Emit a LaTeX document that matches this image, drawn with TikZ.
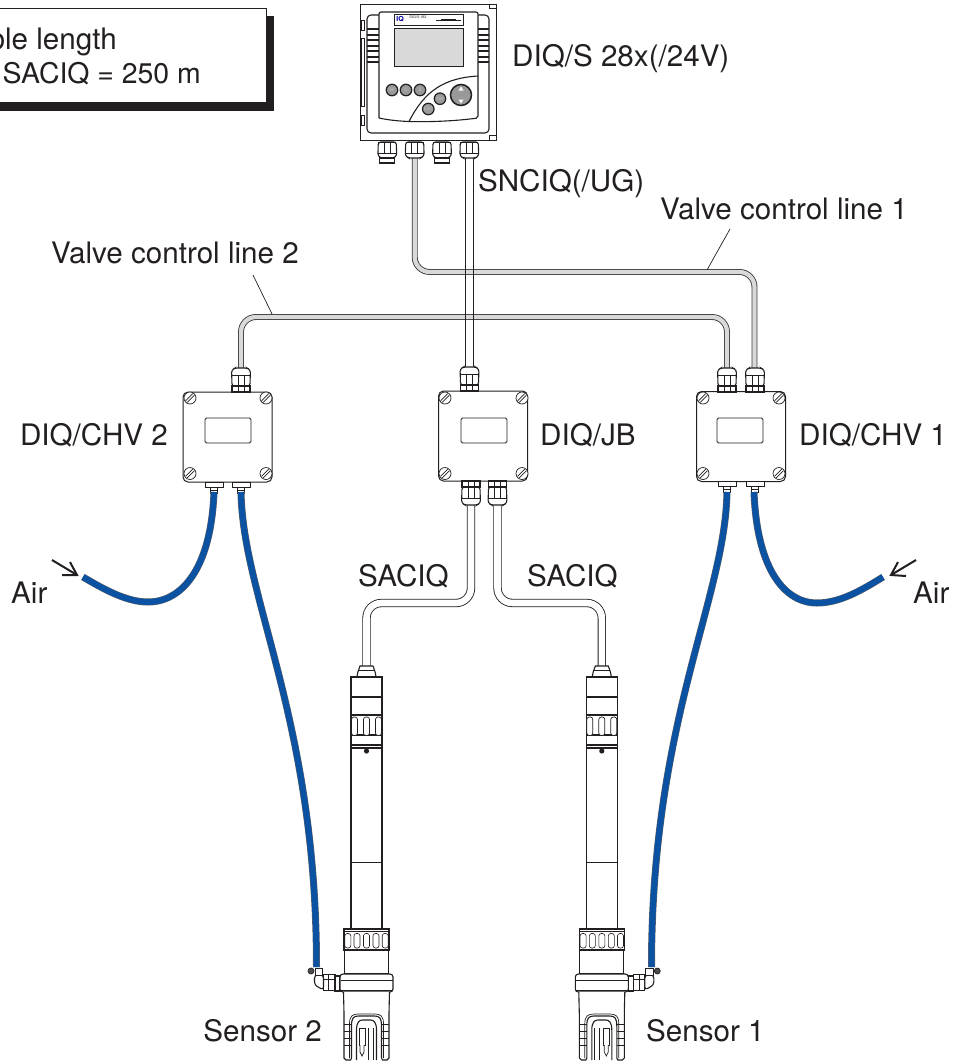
\documentclass[tikz,border=0pt]{standalone}
\usepackage{fontspec}
\setmainfont{TeX Gyre Heros}
\definecolor{ink}{HTML}{231F20}
\definecolor{hoseblue}{HTML}{0B52A3}
\tikzset{
  lbl/.style={font=\fontsize{29.6bp}{33bp}\selectfont, text=ink, inner sep=0pt, anchor=base west},
  lble/.style={lbl, anchor=base east},
  thinl/.style={draw=ink, line width=0.7bp},
  med/.style={draw=ink, line width=1.1bp},
  cablew/.style={draw=ink, line width=0.85bp, double=white, double distance=6.6bp, rounded corners=15bp},
  cablev/.style={draw=ink!90, line width=0.85bp, double=black!15, double distance=4.2bp, rounded corners=15bp},
  hose/.style={draw=ink!70, line width=0.5bp, double=hoseblue, double distance=6bp},
  airarrow/.style={draw=ink, line width=2bp, miter limit=10},
  jbox/.style={draw=ink, line width=1bp, rounded corners=5bp, minimum width=89bp, minimum height=90bp, inner sep=0pt, fill=white},
  jwin/.style={draw=ink, line width=0.9bp, rounded corners=1.5bp, minimum width=46bp, minimum height=25bp, inner sep=0pt, fill=white},
  callout/.style={draw=ink, line width=0.7bp, fill=white},
  btn/.style={circle, draw=ink, line width=1.2bp, fill=black!40, minimum size=11.5bp, inner sep=0pt, text=black!22, font=\fontsize{4.5bp}{5bp}\selectfont},
  screw/.pic={
    \draw[thinl, fill=white] (0,0) circle (6bp);
    \draw[thinl] (-4.4,2.8) -- (2.8,-4.4) (-2.8,4.4) -- (4.4,-2.8);
  },
  glandtop/.pic={% origin at box edge, body runs toward negative y
    \draw[med, fill=white, rounded corners=2.5bp] (-9,-6) -- (-9.4,-22) -- (-6,-24) -- (6,-24) -- (9.4,-22) -- (9,-6) -- cycle;
    \draw[med, fill=white] (-9,0) rectangle (9,-6);
    \draw[thinl] (-3,0) -- (-3,-17) (3,0) -- (3,-17) (-9,-17) -- (9,-17);
  },
  fitbottom/.pic={% origin at box edge
    \draw[thinl, fill=white] (-9,0) rectangle (9,5);
    \draw[thinl, fill=white] (-3.4,5) rectangle (3.4,11);
    \draw[thinl] (-3.4,8) -- (3.4,8);
  },
  sensorpic/.pic={% origin at centre x, y absolute
    \draw[med, fill=white] (-9.6,677) -- (-8.6,672) -- (-6.5,666) -- (6.5,666) -- (8.6,672) -- (9.6,677) -- cycle;
    \draw[thinl] (-8.6,670) -- (8.6,670);
    \draw[med, fill=white] (-15.5,677) rectangle (15.5,929);
    \draw[med] (-15.5,697) -- (15.5,697) (-15.5,715) -- (15.5,715) (-15.5,735) -- (15.5,735);
    \foreach \xx in {-12,0,12}{
      \draw[thinl, fill=white, rounded corners=2.5bp] (\xx-3,717) rectangle (\xx+3,735.5);
    }
    \draw[med] (-15.5,745) -- (15.5,745) (-15.5,748) -- (15.5,748);
    \fill[ink] (0,751) circle (2.6bp);
    \draw[thinl] (-15.5,862) -- (15.5,862);
    % hose fitting
    \draw[thinl, fill=white] (-43,974) rectangle (-31.5,990);
    \draw[thinl] (-43,979) -- (-31.5,979) (-38,974) -- (-38,990);
    \draw[med, fill=white] (-31.5,976) rectangle (-26.5,991);
    \draw[med, fill=white, rounded corners=3bp] (-52,975) -- (-52,985) -- (-43,990) -- (-43,975) -- cycle;
    \draw[thinl, fill=white] (-51.5,968) rectangle (-44,975);
    \draw[thinl, fill=ink!80] (-55.5,971) circle (3bp);
    % head
    \draw[med, fill=white] (-22,950) -- (-22,974) -- (22,974) -- (22,950) -- cycle;
    \draw[med, fill=white] (-22.5,929) rectangle (22.5,950);
    \draw[thinl] (-22.5,931.5) -- (22.5,931.5);
    \foreach \xx in {-18.7,-9.5,0,9.5,18.7}{
      \draw[draw=ink, line width=0.6bp, rounded corners=2.4bp] (\xx-3,933.5) rectangle (\xx+3,948);
    }
    \draw[med, fill=white, rounded corners=3bp] (-26.5,974) rectangle (26.5,992);
    \draw[thinl] (-26,980) -- (26,980) (-26,990) -- (26,990);
    % tail with prongs
    \draw[med, fill=white] (-23,992) -- (-22.5,1013) -- (-22.5,1058) -- (-20.5,1060) -- (-16,1060) -- (-15,1058)
       -- (-15,1026) .. controls (-15,1018) and (-13,1016) .. (-8,1016) -- (8,1016) .. controls (13,1016) and (15,1018) .. (15,1026)
       -- (15,1058) -- (16,1060) -- (20.5,1060) -- (22.5,1058) -- (22.5,1013) -- (23,992);
    \draw[thinl] (-22.5,1024) -- (-15,1024) (-22.5,1031) -- (-15,1031) (-22.5,1038) -- (-15,1038) (-22.5,1045) -- (-15,1045)
       (22.5,1024) -- (15,1024) (22.5,1031) -- (15,1031) (22.5,1038) -- (15,1038) (22.5,1045) -- (15,1045);
    \draw[thinl] (-17,1058) -- (-17,1024) .. controls (-17,1016) and (-14,1014) .. (-8,1014) -- (8,1014) .. controls (14,1014) and (17,1016) .. (17,1024) -- (17,1058);
    \draw[med, fill=white] (-10,1060) -- (-10,1030) .. controls (-10,1022) and (-7,1020) .. (-4,1020) -- (4,1020) .. controls (7,1020) and (10,1022) .. (10,1030) -- (10,1060);
    \draw[thinl, fill=white] (-7.5,1028) rectangle (-1.5,1045);
    \draw[thinl, fill=white] (-6.5,1045) -- (-6.5,1052) -- (-4.5,1056) -- (-2.5,1052) -- (-2.5,1045);
    \draw[med] (2,1028) -- (2,1060) (7,1028) -- (7,1060);
  }
}
\begin{document}
\begin{tikzpicture}[x=1bp,y=-1bp]
\useasboundingbox (0,0) rectangle (961,1063);

% ---- callout box
\fill[ink] (30,15.7) rectangle (274,110.7);
\fill[ink] (-5,60) rectangle (274,110.7);
\draw[callout] (-5,8.5) rectangle (266,102);
\node[lble] (calla) at (117,49) {ble length};
\node[lble, font=\fontsize{28.4bp}{32bp}\selectfont] (callb) at (201,83) {SACIQ = 250 m};

% ---- connection points
\coordinate (gA) at (414.7,158);
\coordinate (gB) at (469.5,158);
\coordinate (gBe) at (469.5,368);
\coordinate (v1m) at (754.5,272);
\coordinate (v1e) at (754.5,369);
\coordinate (v2s) at (241,369);
\coordinate (v2m) at (727,317);
\coordinate (v2e) at (727,369);
\coordinate (s2o) at (471,503);
\coordinate (s1o) at (497.5,503);
\coordinate (s2m) at (366.5,603);
\coordinate (s1m) at (601.8,603);
\coordinate (s2i) at (366.5,667);
\coordinate (s1i) at (601.8,667);

% ---- cables
\draw[cablew] (gB) -- (gBe);
\draw[cablev] (gA) |- (v1m) -- (v1e);
\draw[cablev] (v2s) |- (v2m) -- (v2e);
\draw[thinl] ([xshift=-3.7bp]gB) -- ([xshift=-3.7bp]gBe) ([xshift=3.7bp]gB) -- ([xshift=3.7bp]gBe);
\draw[cablew] (s2o) |- (s2m) -- (s2i);
\draw[cablew] (s1o) |- (s1m) -- (s1i);

% ---- controller
\node[draw=ink, line width=1bp, fill=white, minimum width=136bp, minimum height=136bp, inner sep=0pt] (ctrl) at (428.5,72) {};
\draw[thinl, fill=white] (489,4.5) rectangle (496.5,8);
\draw[thinl, fill=white] (489,135) rectangle (496.5,140);
\draw[thinl] (361,20) rectangle (364,30) (361,38) rectangle (364,106) (361,115) rectangle (364,125);
\draw[med, fill=white, rounded corners=4bp] (367,15) rectangle (489,133);
\foreach \yy in {29,34.5,40,45.5,51,56.5,62}{
  \draw[ink, line width=2bp] (367,\yy) -- (379,\yy) (478,\yy) -- (489,\yy);
}
\draw[med, fill=white, rounded corners=2bp] (379,118) -- (379,12) -- (478,12) -- (478,118) .. controls (455,121) and (432,122) .. (409,121.5) .. controls (398,121) and (388,120) .. (379,118);
\draw[med] (409,121.5) .. controls (425,90) and (445,78) .. (478,76);
\draw[thinl, fill=white] (394,14) rectangle (463,25.5);
\node[text=blue!60!black, inner sep=0pt, font=\bfseries\fontsize{7bp}{7bp}\selectfont] (logo) at (400,19.5) {IQ};
\node[text=ink, inner sep=0pt, font=\fontsize{3.6bp}{4bp}\selectfont] (hdr) at (418,17.5) {DIQ/S 182};
\draw[ink, line width=0.6bp] (436,20) -- (461,20);
\fill[ink] (441,18.8) rectangle (456,21.2);
\node[draw=ink, line width=1bp, fill=black!15, minimum width=69bp, minimum height=38bp, inner sep=0pt] (disp) at (428.5,47) {};
\node[btn] (bM) at (392,90) {M};
\node[btn] (bC) at (406,90) {C};
\node[btn] (bS) at (420,90) {S};
\node[btn] (bOK) at (440,98.7) {OK};
\node[btn] (bEsc) at (428.3,109) {ESC};
\node[circle, draw=ink, line width=1.5bp, fill=black!40, minimum size=21bp, inner sep=0pt] (bBig) at (461,95) {};
\fill[white] (461,86.5) -- (458.5,90.5) -- (463.5,90.5) -- cycle;
\fill[white] (461,103.5) -- (458.5,99.5) -- (463.5,99.5) -- cycle;

\foreach \xx/\cp in {387.3/1,414.7/0,442/1,469.3/0}{
  \begin{scope}[shift={(\xx,140)}, yscale=-1]
    \draw[med, fill=white, rounded corners=2.5bp] (-9,-2) -- (-9.4,-16) -- (-6,-18) -- (6,-18) -- (9.4,-16) -- (9,-2) -- cycle;
    \draw[thinl] (-9,-2) -- (9,-2) (-3,-2) -- (-3,-13) (3,-2) -- (3,-13) (-9,-13) -- (9,-13);
    \ifnum\cp=1
      \draw[med, fill=white] (-7.5,-18) rectangle (7.5,-23);
    \fi
  \end{scope}
}

% ---- junction boxes
\node[jbox] (chv2) at (227.5,437) {};
\node[jbox] (jb) at (483,436) {};
\node[jbox] (chv1) at (741,436.5) {};
\node[jwin] (chv2w) at (228,430.5) {};
\node[jwin] (jbw) at (484,430.5) {};
\node[jwin] (chv1w) at (740,430.5) {};
\foreach \bx in {190,266,445,522,703,779}{
  \pic at (\bx,398) {screw};
  \pic at (\bx,473.5) {screw};
}
\pic at (241,392) {glandtop};
\pic at (469.5,391) {glandtop};
\pic at (727,392) {glandtop};
\pic at (755,392) {glandtop};
\pic at (471,481) [yscale=-1] {glandtop};
\pic at (497.5,481) [yscale=-1] {glandtop};
\pic at (214,482) {fitbottom};
\pic at (241,482) {fitbottom};
\pic at (727,481) {fitbottom};
\pic at (755,481) {fitbottom};

% ---- hoses
\coordinate (h2a) at (214,492);
\coordinate (h2b) at (241,492);
\coordinate (h1a) at (727,492);
\coordinate (h1b) at (754,492);
\coordinate (airL) at (83,577);
\coordinate (airR) at (883,577);
\coordinate (s2h) at (316.5,967);
\coordinate (s1h) at (651.5,967);
\draw[hose] (h2a) .. controls (211,570) and (181,602) .. (148,602) .. controls (127,602) and (105,590) .. (airL);
\draw[hose] (h1b) .. controls (757,570) and (785,603) .. (817,603) .. controls (840,603) and (862,590) .. (airR);
\draw[hose] (h1a) .. controls (725,600) and (651.5,720) .. (s1h);
\draw[hose] (h2b) .. controls (243,600) and (316.5,720) .. (s2h);

% ---- sensors
\pic at (366.5,0) {sensorpic};
\pic at (601.8,0) [xscale=-1] {sensorpic};

% ---- air arrows
\coordinate (aLs) at (52,560);
\coordinate (aLe) at (77,575);
\coordinate (aRs) at (916,560);
\coordinate (aRe) at (891,575);
\draw[airarrow] (aLs) -- (aLe);
\draw[airarrow] (70,562) -- (aLe) -- (62,575);
\draw[airarrow] (aRs) -- (aRe);
\draw[airarrow] (898,562) -- (aRe) -- (906,576);

% ---- pointers
\coordinate (p1s) at (730,229);
\coordinate (p1e) at (707,270);
\coordinate (p2s) at (253,275);
\coordinate (p2e) at (272,314);
\draw[thinl] (p1s) -- (p1e);
\draw[thinl] (p2s) -- (p2e);

% ---- labels
\node[lbl] (tc) at (512,66) {DIQ/S 28x(/24V)};
\node[lbl] (tsn) at (478,191) {SNCIQ(/UG)};
\node[lbl] (tv1) at (660,219) {Valve control line 1};
\node[lbl] (tv2) at (51,263) {Valve control line 2};
\node[lble] (tch2) at (168,445) {DIQ/CHV 2};
\node[lbl] (tjb) at (540,445) {DIQ/JB};
\node[lbl] (tch1) at (799,445) {DIQ/CHV 1};
\node[lbl] (ts2) at (358,586) {SACIQ};
\node[lbl] (ts1) at (527,586) {SACIQ};
\node[lbl] (tairl) at (11,603) {Air};
\node[lbl] (tairr) at (913,603) {Air};
\node[lble] (tsen2) at (322,1041) {Sensor 2};
\node[lbl] (tsen1) at (646,1041) {Sensor 1};
\end{tikzpicture}
\end{document}
